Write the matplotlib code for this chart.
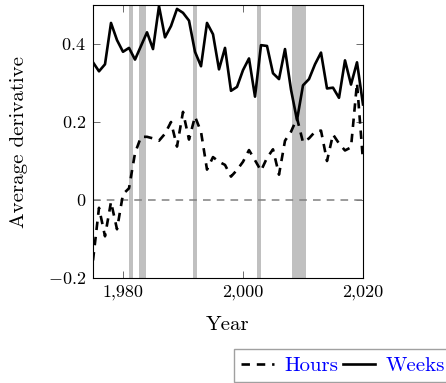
import matplotlib
matplotlib.use("Agg")
import matplotlib.pyplot as plt
from matplotlib.lines import Line2D

plt.rcParams['font.family'] = ['cmr10', 'DejaVu Serif']
plt.rcParams['mathtext.fontset'] = 'cm'
plt.rcParams['axes.unicode_minus'] = False

years = list(range(1975, 2021))
weeks = [0.353, 0.33, 0.348, 0.454, 0.41, 0.38, 0.39, 0.36, 0.395, 0.43,
         0.387, 0.497, 0.417, 0.446, 0.49, 0.48, 0.46, 0.38, 0.343, 0.454,
         0.425, 0.335, 0.39, 0.28, 0.29, 0.333, 0.363, 0.265, 0.397, 0.395,
         0.325, 0.31, 0.387, 0.283, 0.205, 0.294, 0.31, 0.348, 0.378, 0.286,
         0.288, 0.262, 0.358, 0.296, 0.353, 0.245]
hours = [-0.155, -0.02, -0.093, -0.005, -0.075, 0.015, 0.03, 0.12, 0.162, 0.162,
         0.158, 0.152, 0.17, 0.2, 0.137, 0.226, 0.155, 0.214, 0.175, 0.078,
         0.11, 0.098, 0.09, 0.06, 0.077, 0.098, 0.128, 0.102, 0.075, 0.108,
         0.13, 0.065, 0.152, 0.175, 0.21, 0.148, 0.158, 0.175, 0.178, 0.1,
         0.168, 0.145, 0.127, 0.135, 0.3, 0.1]
recessions = [(1981.05, 1981.65), (1982.7, 1983.9), (1991.65, 1992.3),
              (2002.3, 2002.95), (2008.2, 2010.5)]
xticks = [1980, 2000, 2020]
xtick_labels = ['1,980', '2,000', '2,020']
yticks = [-0.2, 0, 0.2, 0.4]
ytick_labels = ['$-0.2$', '$0$', '$0.2$', '$0.4$']

fig = plt.figure(figsize=(4.46, 3.83), dpi=100)
ax = fig.add_axes([93/446, 1-278/383, (363-93)/446, (278-5)/383])

for a, b in recessions:
    ax.axvspan(a, b, color='#c0c0c0', lw=0, zorder=1)
ax.axhline(0, color='#808080', lw=1.1, dashes=(5, 4), zorder=2)
ax.plot(years, hours, color='black', lw=1.9, dashes=(3.2, 2.6), zorder=3)
ax.plot(years, weeks, color='black', lw=1.9, zorder=3)

ax.set_xlim(1975, 2020)
ax.set_ylim(-0.2, 0.5)
ax.set_xticks(xticks, labels=xtick_labels)
ax.set_yticks(yticks, labels=ytick_labels)
ax.tick_params(direction='in', length=5, width=0.6, top=True, right=True,
               labelsize=13, pad=5, color='#555555')
for s in ax.spines.values():
    s.set_linewidth(0.8)
ax.set_xlabel('Year', fontsize=15, labelpad=11)
ax.set_ylabel('Average derivative', fontsize=15, labelpad=14)

handles = [Line2D([], [], color='black', lw=1.9, dashes=(3.2, 2.6)),
           Line2D([], [], color='black', lw=1.9)]
leg = fig.legend(handles, ['Hours', 'Weeks'], loc='upper left',
                 bbox_to_anchor=(234/446, 1-349/383), ncol=2, fontsize=15,
                 frameon=True, fancybox=False, handlelength=1.55,
                 handletextpad=0.5, columnspacing=0.25, borderpad=0.35,
                 borderaxespad=0, labelcolor='blue')
leg.get_frame().set_edgecolor('#888888')
leg.get_frame().set_linewidth(1.0)

fig.savefig('out.png', dpi=100)
